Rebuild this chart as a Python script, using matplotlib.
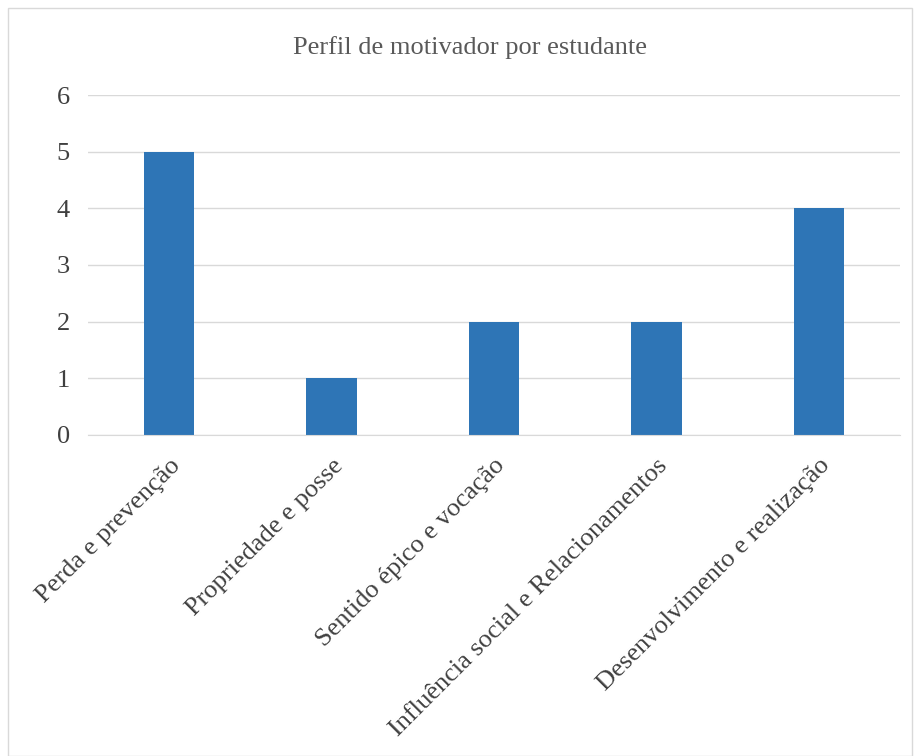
import matplotlib
matplotlib.use("Agg")
import matplotlib.pyplot as plt
from matplotlib.patches import Rectangle

categories = ["Perda e prevenção", "Propriedade e posse", "Sentido épico e vocação",
              "Influência social e Relacionamentos", "Desenvolvimento e realização"]
values = [5, 1, 2, 2, 4]
yticks = [0, 1, 2, 3, 4, 5, 6]
title = "Perfil de motivador por estudante"

plt.rcParams['font.family'] = ['Liberation Serif', 'DejaVu Serif']

fig = plt.figure(figsize=(9.15, 7.56), dpi=100)
fig.patches.append(Rectangle((8/915, 0), 904/915, 1 - 8/756, transform=fig.transFigure,
                             fill=False, edgecolor='#d9d9d9', linewidth=1))
ax = fig.add_axes([88/915, 1 - 435/756, 812/915, 340/756])
x = list(range(len(categories)))
ax.bar(x, values, width=0.31, color='#2e75b6', zorder=3)
ax.set_xlim(-0.5, len(categories) - 0.5)
ax.set_ylim(0, 6)
ax.set_yticks(yticks)
ax.set_yticklabels([str(t) for t in yticks], fontsize=19, color='#404040')
ax.set_xticks(x)
ax.set_xticklabels(categories, rotation=45, ha='right', rotation_mode='anchor',
                   fontsize=19, color='#404040')
ax.tick_params(axis='both', length=0)
ax.tick_params(axis='y', pad=13)
ax.tick_params(axis='x', pad=14)
ax.grid(axis='y', color='#d9d9d9', linewidth=1, zorder=0)
for s in ['top', 'right', 'left']:
    ax.spines[s].set_visible(False)
ax.spines['bottom'].set_color('#d9d9d9')
ax.spines['bottom'].set_zorder(4)
fig.text(470/915, 1 - 48/756, title, ha='center', va='center', fontsize=19, color='#595959')
fig.savefig("out.png", dpi=100)
